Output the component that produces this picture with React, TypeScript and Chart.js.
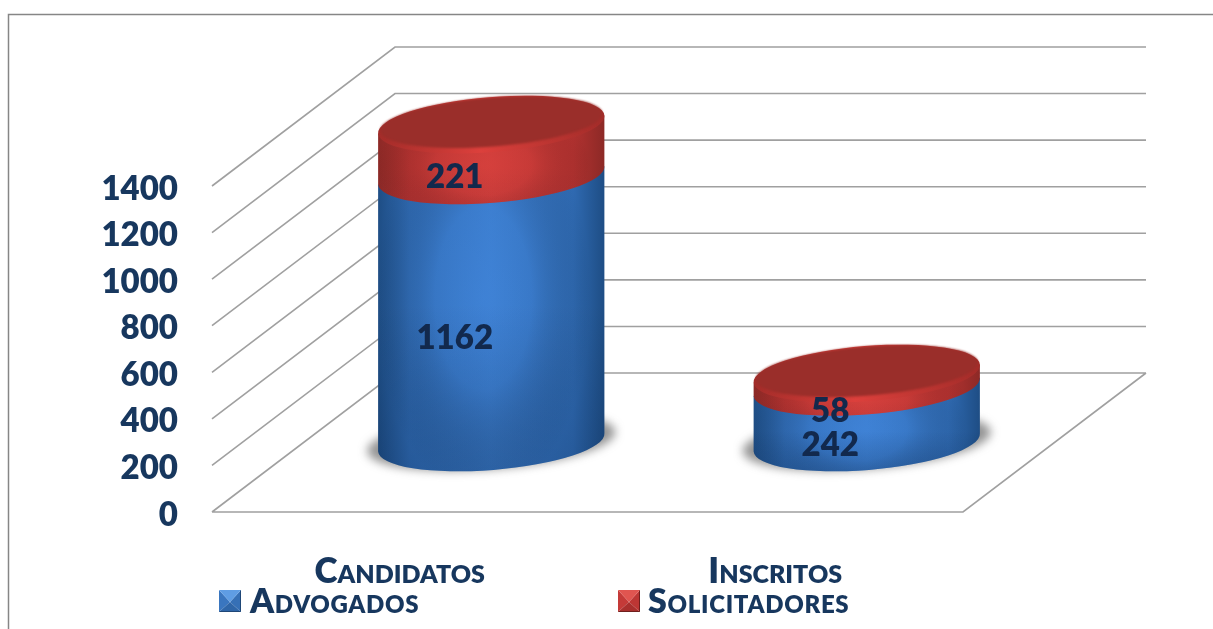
import React, { useEffect, useRef } from "react";
import { Chart, registerables } from "chart.js";

Chart.register(...registerables);

const categories = ["Candidatos", "Inscritos"];
const advogados = [1162, 242];
const solicitadores = [221, 58];
const yTicks = [0, 200, 400, 600, 800, 1000, 1200, 1400];

const TEXT = "#17375e";
const LABEL = "#12294d";
const DEPTH_X = 183;
const DEPTH_Y = 139;
const TILT = -0.08;
const RY = 27.5;

type Tone = { edge: string; side: string; mid: string; glow: string; glowSoft: string; shade: number };
const tones: Tone[] = [
  { edge: "#1e4d84", side: "#2f6ab2", mid: "#3a7bca", glow: "rgba(70,140,230,0.42)", glowSoft: "rgba(70,140,230,0.24)", shade: 0.2 },
  { edge: "#8c2926", side: "#b33230", mid: "#cb3b38", glow: "rgba(225,70,66,0.45)", glowSoft: "rgba(225,70,66,0.22)", shade: 0.04 },
];

const sideGradient = (ctx: CanvasRenderingContext2D, cx: number, rx: number, t: Tone) => {
  const g = ctx.createLinearGradient(cx - rx, 0, cx + rx, 0);
  g.addColorStop(0, t.edge);
  g.addColorStop(0.14, t.side);
  g.addColorStop(0.5, t.mid);
  g.addColorStop(0.86, t.side);
  g.addColorStop(1, t.edge);
  return g;
};

const segmentPath = (ctx: CanvasRenderingContext2D, cx: number, yTop: number, yBot: number, rx: number, ry: number) => {
  const dx = rx * Math.cos(TILT);
  const dy = rx * Math.sin(TILT);
  ctx.beginPath();
  ctx.moveTo(cx + dx, yTop + dy);
  ctx.lineTo(cx + dx, yBot + dy);
  ctx.ellipse(cx, yBot, rx, ry, TILT, 0, Math.PI);
  ctx.lineTo(cx - dx, yTop - dy);
  ctx.closePath();
};

const cylinderPlugin = {
  id: "cylinder3d",
  beforeDraw(chart: any) {
    const { ctx, width, height } = chart;
    ctx.save();
    ctx.fillStyle = "#ffffff";
    ctx.fillRect(0, 0, width, height);
    ctx.strokeStyle = "#868686";
    ctx.lineWidth = 1.5;
    ctx.beginPath();
    ctx.moveTo(8.5, height);
    ctx.lineTo(8.5, 14.5);
    ctx.lineTo(width, 14.5);
    ctx.stroke();
    ctx.restore();
  },
  beforeDatasetsDraw(chart: any) {
    const { ctx, chartArea, scales } = chart;
    const { left, right, bottom } = chartArea;
    ctx.save();
    ctx.strokeStyle = "#a0a0a0";
    ctx.lineWidth = 1.6;
    ctx.beginPath();
    yTicks.forEach((v) => {
      const y = scales.y.getPixelForValue(v);
      ctx.moveTo(left, y);
      ctx.lineTo(left + DEPTH_X, y - DEPTH_Y);
      ctx.lineTo(right + DEPTH_X, y - DEPTH_Y);
    });
    ctx.moveTo(left, bottom);
    ctx.lineTo(right, bottom);
    ctx.lineTo(right + DEPTH_X, bottom - DEPTH_Y);
    ctx.stroke();
    ctx.restore();
  },
  beforeDatasetDraw() {
    return false;
  },
  afterDatasetsDraw(chart: any) {
    const { ctx, scales } = chart;
    const shiftX = DEPTH_X / 2;
    const shiftY = DEPTH_Y / 2;
    const metas = chart.data.datasets.map((_: any, i: number) => chart.getDatasetMeta(i));
    categories.forEach((_, c) => {
      const first = metas[0].data[c];
      const cx = first.x + shiftX;
      const rx = first.width / 2;
      const yBase = first.base - shiftY;
      ctx.save();
      ctx.filter = "blur(5px)";
      ctx.fillStyle = "rgba(90,90,90,0.65)";
      ctx.beginPath();
      ctx.ellipse(cx, yBase - 1, rx + 11, RY, TILT, 0, Math.PI * 2);
      ctx.fill();
      ctx.restore();

      metas.forEach((meta: any, d: number) => {
        const el = meta.data[c];
        const tone = tones[d];
        const yTop = el.y - shiftY;
        const yBot = el.base - shiftY;
        ctx.save();
        segmentPath(ctx, cx, yTop, yBot, rx, RY);
        ctx.fillStyle = sideGradient(ctx, cx, rx, tone);
        ctx.fill();
        ctx.clip();
        const h = yBot - yTop + 2 * RY;
        const midY = yTop + h * 0.38;
        const glow = ctx.createRadialGradient(cx - 8, midY, 0, cx - 8, midY, rx * 0.95);
        glow.addColorStop(0, tone.glow);
        glow.addColorStop(0.45, tone.glowSoft);
        glow.addColorStop(1, "rgba(0,0,0,0)");
        ctx.save();
        ctx.translate(0, midY);
        ctx.scale(1, Math.max(h / (rx * 1.5), 0.55));
        ctx.translate(0, -midY);
        ctx.fillStyle = glow;
        ctx.fillRect(cx - rx, midY - rx * 4, rx * 2, rx * 8);
        ctx.restore();
        const shade = ctx.createLinearGradient(0, yTop + h * 0.4, 0, yBot + RY);
        shade.addColorStop(0, "rgba(0,20,50,0)");
        shade.addColorStop(1, `rgba(0,20,50,${tone.shade})`);
        ctx.fillStyle = shade;
        ctx.fillRect(cx - rx, yTop + h * 0.4, rx * 2, h);
        ctx.restore();
      });

      const topEl = metas[metas.length - 1].data[c];
      const yTop = topEl.y - shiftY;
      ctx.save();
      const rim = ctx.createLinearGradient(cx - rx, 0, cx + rx, 0);
      rim.addColorStop(0, "#a32c29");
      rim.addColorStop(0.45, "#dc403c");
      rim.addColorStop(1, "#a32c29");
      ctx.fillStyle = rim;
      ctx.beginPath();
      ctx.ellipse(cx, yTop, rx, RY, TILT, 0, Math.PI * 2);
      ctx.fill();
      ctx.filter = "blur(0.8px)";
      ctx.fillStyle = "#9a2e2a";
      ctx.beginPath();
      ctx.ellipse(cx, yTop - 2.5, rx - 2, RY - 3, TILT, 0, Math.PI * 2);
      ctx.fill();
      ctx.restore();
    });

    ctx.save();
    ctx.font = "800 33px Lato";
    ctx.fillStyle = LABEL;
    ctx.textAlign = "center";
    ctx.textBaseline = "middle";
    categories.forEach((_, c) => {
      const x = scales.x.getPixelForValue(c) + 55;
      let base = 0;
      [advogados, solicitadores].forEach((series) => {
        const v = series[c];
        const y = scales.y.getPixelForValue(base + v / 2) - 38;
        ctx.fillText(String(v), x, y);
        base += v;
      });
    });
    ctx.restore();
  },
  afterDraw(chart: any) {
    const { ctx } = chart;
    const slots = [
      { x: 219, text: 250 },
      { x: 618, text: 648 },
    ];
    const faces = [
      ["#5f9de4", "#3a76bf", "#3670b6", "#2f66a8", "#1f4777"],
      ["#e05550", "#c43a38", "#bd3634", "#a92f2d", "#6f1f1d"],
    ];
    chart.data.datasets.forEach((ds: any, i: number) => {
      const s = slots[i];
      const f = faces[i];
      const y = 590;
      const size = 22;
      const x2 = s.x + size;
      const y2 = y + size;
      const mx = s.x + size / 2;
      const my = y + size * 0.55;
      const tri = (ax: number, ay: number, bx: number, by: number, col: string) => {
        ctx.fillStyle = col;
        ctx.beginPath();
        ctx.moveTo(ax, ay);
        ctx.lineTo(bx, by);
        ctx.lineTo(mx, my);
        ctx.closePath();
        ctx.fill();
      };
      ctx.save();
      tri(s.x, y, s.x, y2, f[1]);
      tri(x2, y, x2, y2, f[2]);
      tri(s.x, y2, x2, y2, f[3]);
      tri(s.x, y, x2, y, f[0]);
      ctx.strokeStyle = f[4];
      ctx.lineWidth = 1;
      ctx.beginPath();
      ctx.moveTo(s.x + 0.5, y2 - 0.5);
      ctx.lineTo(x2 - 0.5, y2 - 0.5);
      ctx.lineTo(x2 - 0.5, y + 0.5);
      ctx.stroke();
      ctx.font = "small-caps 800 34px Lato";
      (ctx as any).letterSpacing = "0.7px";
      ctx.fillStyle = TEXT;
      ctx.textAlign = "left";
      ctx.textBaseline = "alphabetic";
      ctx.fillText(ds.label, s.text, 613);
      ctx.restore();
    });
  },
};

export default function App() {
  const ref = useRef<HTMLCanvasElement>(null);
  useEffect(() => {
    if (!ref.current) return;
    const chart = new Chart(ref.current, {
      type: "bar",
      data: {
        labels: categories,
        datasets: [
          { label: "Advogados", data: advogados, backgroundColor: "#3471b8", yAxisID: "y1", stack: "s" },
          { label: "Solicitadores", data: solicitadores, backgroundColor: "#c23632", yAxisID: "y1", stack: "s" },
        ],
      },
      plugins: [cylinderPlugin as any],
      options: {
        animation: false,
        responsive: false,
        layout: { padding: { top: 186, right: 250, left: 0, bottom: 0 } },
        plugins: { legend: { display: false }, tooltip: { enabled: false } },
        datasets: { bar: { barPercentage: 0.6045, categoryPercentage: 1 } },
        scales: {
          x: {
            stacked: true,
            grid: { display: false, drawTicks: false },
            border: { display: false },
            afterFit: (s: any) => {
              s.height = 117;
            },
            ticks: {
              padding: 39,
              maxRotation: 0,
              color: TEXT,
              font: { family: "Lato", size: 35, weight: "small-caps 800", lineHeight: 1.2 },
            },
          },
          y: {
            min: 0,
            max: 1400,
            position: "left",
            grid: { display: false, drawTicks: false },
            border: { display: false },
            afterFit: (s: any) => {
              s.width = 212;
            },
            ticks: {
              stepSize: 200,
              padding: 34,
              labelOffset: 3,
              color: TEXT,
              font: { family: "Lato", size: 33, weight: "800" },
              callback: (v: any) => String(v),
            },
          },
          y1: { display: false, stacked: true, min: 0, max: 1418 },
        },
      } as any,
    });
    return () => chart.destroy();
  }, []);
  return (
    <div style={{ position: "fixed", left: 0, top: 0, width: 1213, height: 629, background: "#fff" }}>
      <canvas ref={ref} width={1213} height={629} style={{ display: "block", width: 1213, height: 629 }} />
    </div>
  );
}
